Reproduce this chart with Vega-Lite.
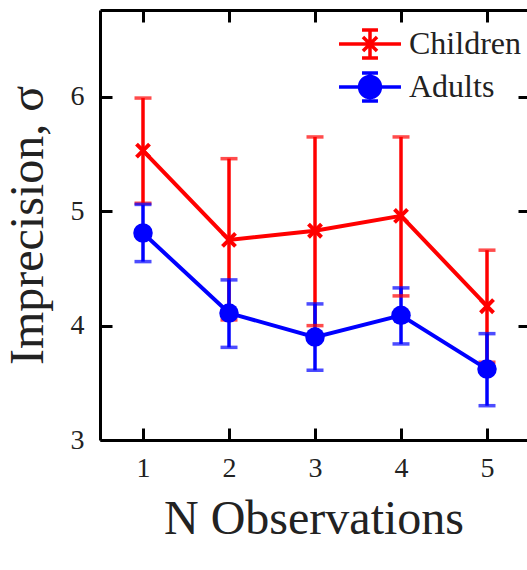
{
  "$schema": "https://vega.github.io/schema/vega-lite/v6.json",
  "width": 427,
  "height": 430,
  "autosize": {"type": "none"},
  "padding": {"left": 100, "top": 10, "right": 0, "bottom": 130},
  "background": "white",
  "config": {
    "view": {"stroke": null},
    "axis": {
      "domainColor": "black",
      "domainWidth": 3,
      "tickColor": "black",
      "tickWidth": 3,
      "gridColor": "black",
      "gridWidth": 3,
      "gridOpacity": 1,
      "gridDash": [12, 2000],
      "labelFont": "Liberation Serif",
      "labelFontSize": 28,
      "labelColor": "#222",
      "titleFont": "Liberation Serif",
      "titleFontSize": 48,
      "titleFontWeight": "normal",
      "titleColor": "#222"
    },
    "legend": {
      "orient": "none",
      "legendX": 249,
      "legendY": 13,
      "padding": 0,
      "labelFont": "Liberation Serif",
      "labelFontSize": 32,
      "labelColor": "#222",
      "symbolSize": 1444,
      "symbolStrokeWidth": 3.5,
      "symbolOpacity": 1,
      "labelOffset": 18,
      "rowPadding": -12
    }
  },
  "data": {
    "values": [
      {"group": "Children", "n": 1, "sigma": 5.53, "lo": 5.07, "hi": 5.99},
      {"group": "Children", "n": 2, "sigma": 4.75, "lo": 4.05, "hi": 5.46},
      {"group": "Children", "n": 3, "sigma": 4.83, "lo": 4.0, "hi": 5.65},
      {"group": "Children", "n": 4, "sigma": 4.96, "lo": 4.26, "hi": 5.65},
      {"group": "Children", "n": 5, "sigma": 4.17, "lo": 3.68, "hi": 4.66},
      {"group": "Adults", "n": 1, "sigma": 4.81, "lo": 4.56, "hi": 5.06},
      {"group": "Adults", "n": 2, "sigma": 4.11, "lo": 3.81, "hi": 4.4},
      {"group": "Adults", "n": 3, "sigma": 3.9, "lo": 3.61, "hi": 4.19},
      {"group": "Adults", "n": 4, "sigma": 4.09, "lo": 3.84, "hi": 4.33},
      {"group": "Adults", "n": 5, "sigma": 3.62, "lo": 3.3, "hi": 3.93}
    ]
  },
  "resolve": {"axis": {"x": "independent", "y": "independent"}},
  "layer": [
    {
      "mark": {"type": "rule", "strokeWidth": 3.5},
      "encoding": {
        "x": {
          "field": "n", "type": "quantitative",
          "scale": {"domain": [0.5, 5.465], "nice": false, "zero": false},
          "axis": {"orient": "bottom", "values": [1, 2, 3, 4, 5], "ticks": false, "grid": true, "labelPadding": 14, "title": "N Observations", "titlePadding": 13}
        },
        "y": {
          "field": "lo", "type": "quantitative",
          "scale": {"domain": [3, 6.76], "nice": false, "zero": false},
          "axis": {"orient": "left", "values": [3, 4, 5, 6], "ticks": false, "grid": true, "labelPadding": 16, "title": "Imprecision, σ", "titlePadding": 18}
        },
        "y2": {"field": "hi"},
        "color": {
          "field": "group", "type": "nominal",
          "scale": {"domain": ["Adults", "Children"], "range": ["#0000ff", "#ff0000"]},
          "legend": null
        }
      }
    },
    {
      "mark": {"type": "tick", "orient": "horizontal", "size": 17, "thickness": 3.5},
      "encoding": {
        "x": {"field": "n", "type": "quantitative",
          "axis": {"orient": "top", "values": [1, 2, 3, 4, 5], "ticks": false, "grid": true, "labels": false, "title": null}},
        "y": {"field": "lo", "type": "quantitative",
          "axis": {"orient": "right", "values": [3, 4, 5, 6], "grid": false, "labels": false, "domain": false, "tickSize": -9, "title": null}},
        "color": {"field": "group", "type": "nominal", "legend": null}
      }
    },
    {
      "mark": {"type": "tick", "orient": "horizontal", "size": 17, "thickness": 3.5},
      "encoding": {
        "x": {"field": "n", "type": "quantitative", "axis": null},
        "y": {"field": "hi", "type": "quantitative", "axis": null},
        "color": {"field": "group", "type": "nominal", "legend": null}
      }
    },
    {
      "mark": {"type": "line", "strokeWidth": 4},
      "encoding": {
        "x": {"field": "n", "type": "quantitative", "axis": null},
        "y": {"field": "sigma", "type": "quantitative", "axis": null},
        "color": {"field": "group", "type": "nominal", "legend": null}
      }
    },
    {
      "transform": [{"filter": "datum.group === 'Children'"}],
      "mark": {"type": "point", "shape": "M-1,-1L1,1M-1,1L1,-1", "filled": false, "size": 170, "strokeWidth": 4, "opacity": 1},
      "encoding": {
        "x": {"field": "n", "type": "quantitative", "axis": null},
        "y": {"field": "sigma", "type": "quantitative", "axis": null},
        "color": {"field": "group", "type": "nominal", "legend": null}
      }
    },
    {
      "transform": [{"filter": "datum.group === 'Adults'"}],
      "mark": {"type": "circle", "size": 380, "opacity": 1},
      "encoding": {
        "x": {"field": "n", "type": "quantitative", "axis": null},
        "y": {"field": "sigma", "type": "quantitative", "axis": null},
        "color": {"field": "group", "type": "nominal", "legend": null}
      }
    },
    {
      "mark": {"type": "point", "filled": true, "opacity": 0, "strokeWidth": 3.5},
      "encoding": {
        "x": {"field": "n", "type": "quantitative", "axis": null},
        "y": {"field": "sigma", "type": "quantitative", "axis": null},
        "fill": {
          "field": "group", "type": "nominal",
          "scale": {"domain": ["Children", "Adults"], "range": ["#ff0000", "#0000ff"]},
          "legend": {"title": null}
        },
        "stroke": {
          "field": "group", "type": "nominal",
          "scale": {"domain": ["Children", "Adults"], "range": ["#ff0000", "#0000ff"]},
          "legend": {"title": null}
        },
        "shape": {
          "field": "group", "type": "nominal",
          "scale": {
            "domain": ["Children", "Adults"],
            "range": [
              "M-1.63,0H1.63M0,-0.74V0.74M-0.42,-0.74H0.42M-0.42,0.74H0.42M-0.37,-0.37L0.37,0.37M-0.37,0.37L0.37,-0.37",
              "M-1.63,0H1.63M0,-0.74V0.74M-0.42,-0.74H0.42M-0.42,0.74H0.42M-0.55,0A0.55,0.55,0,1,1,0.55,0A0.55,0.55,0,1,1,-0.55,0Z"
            ]
          },
          "legend": {"title": null}
        }
      }
    }
  ]
}
